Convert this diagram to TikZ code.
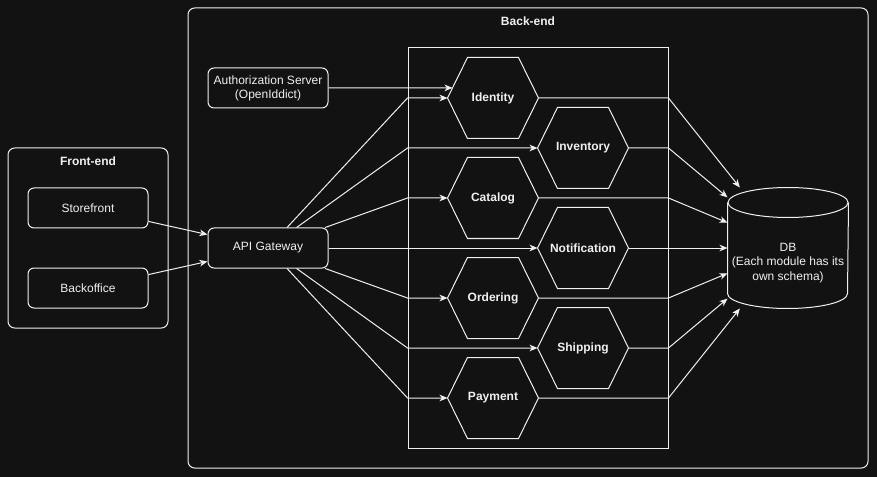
\documentclass[tikz,border=0pt]{standalone}
\usepackage{fontspec}
\setmainfont{Liberation Sans}
\usetikzlibrary{arrows.meta,calc}
\definecolor{bg}{HTML}{121212}
\definecolor{fg}{HTML}{F0F0F0}
\begin{document}
\begin{tikzpicture}[x=0.75pt,y=-0.75pt,
  line width=0.75pt, draw=fg, text=fg,
  font=\fontsize{9}{10.5}\selectfont,
  cont/.style={draw, rounded corners=5pt, inner sep=0},
  ttl/.style={font=\fontsize{9}{10.5}\selectfont\bfseries, inner sep=0},
  box/.style={draw, fill=bg, rounded corners=4.5pt, minimum width=90pt, minimum height=30pt, align=center, inner sep=0},
  hexnode/.style={minimum width=67.5pt, minimum height=60pt, inner sep=0, font=\fontsize{9}{10.5}\selectfont\bfseries},
  arr/.style={-{Stealth[length=6pt,width=5pt,inset=1.8pt]}}
]
\fill[bg] (0,0) rectangle (877,477);
\useasboundingbox (0,0) rectangle (877,477);

% containers
\node[cont, minimum width=510pt, minimum height=345pt] (be) at (528,238) {};
\node[ttl] (betitle) at ($(be.north)+(0,14)$) {Back-end};
\node[cont, minimum width=120pt, minimum height=135pt] (fe) at (88,238) {};
\node[ttl] (fetitle) at ($(fe.north)+(0,14)$) {Front-end};
\node[draw, minimum width=195pt, minimum height=300pt, inner sep=0] (inner) at (538,248) {};

% boxes
\node[box] (sf) at (88,208) {Storefront};
\node[box] (bo) at (88,288) {Backoffice};
\node[box] (api) at (268,248) {API Gateway};
\node[box] (auth) at (268,88) {Authorization Server\\(OpenIddict)};

% hexagons
\node[hexnode] (id) at (493,98) {Identity};
\node[hexnode] (inv) at (583,148) {Inventory};
\node[hexnode] (cat) at (493,198) {Catalog};
\node[hexnode] (noti) at (583,248) {Notification};
\node[hexnode] (ord) at (493,298) {Ordering};
\node[hexnode] (ship) at (583,348) {Shipping};
\node[hexnode] (pay) at (493,398) {Payment};
\foreach \h in {id,inv,cat,noti,ord,ship,pay}{
  \draw (\h.west) -- ($(\h.north west)+(20,0)$) -- ($(\h.north east)+(-20,0)$)
        -- (\h.east) -- ($(\h.south east)+(-20,0)$) -- ($(\h.south west)+(20,0)$) -- cycle;
}

% DB cylinder
\node[minimum width=90pt, minimum height=90pt, inner sep=0] (db) at (788,248) {};
\draw ($(db.north west)+(0,15)$) -- ($(db.south west)+(0,-15)$)
  arc[start angle=180, end angle=360, x radius=45pt, y radius=11.25pt]
  -- ($(db.north east)+(0,15)$);
\draw ($(db.north)+(0,15)$) ellipse[x radius=45pt, y radius=11.25pt];
\node[align=center, inner sep=0, font=\fontsize{9}{10.8}\selectfont] (dbtext) at (788,263) {DB\\(Each module has its\\own schema)};

% front-end to gateway
\draw[arr] (sf) -- (api);
\draw[arr] (bo) -- (api);

% auth to identity
\coordinate (authend) at ($(id.west)!0.25!($(id.north west)+(20,0)$)$);
\draw[arr] (auth.east) -- (authend);

% gateway to modules
\foreach \h in {id,inv,cat,ord,ship,pay}{
  \draw[arr] (api) -- (\h.west -| inner.west) -- (\h.west);
}
\draw[arr] (api.east) -- (noti.west);

% modules to DB
\foreach \h in {id,inv,cat,ord,ship,pay}{
  \draw[arr] (\h.east) -- (\h.east -| inner.east) -- (db);
}
\draw[arr] (noti.east) -- (db.west);
\end{tikzpicture}
\end{document}
